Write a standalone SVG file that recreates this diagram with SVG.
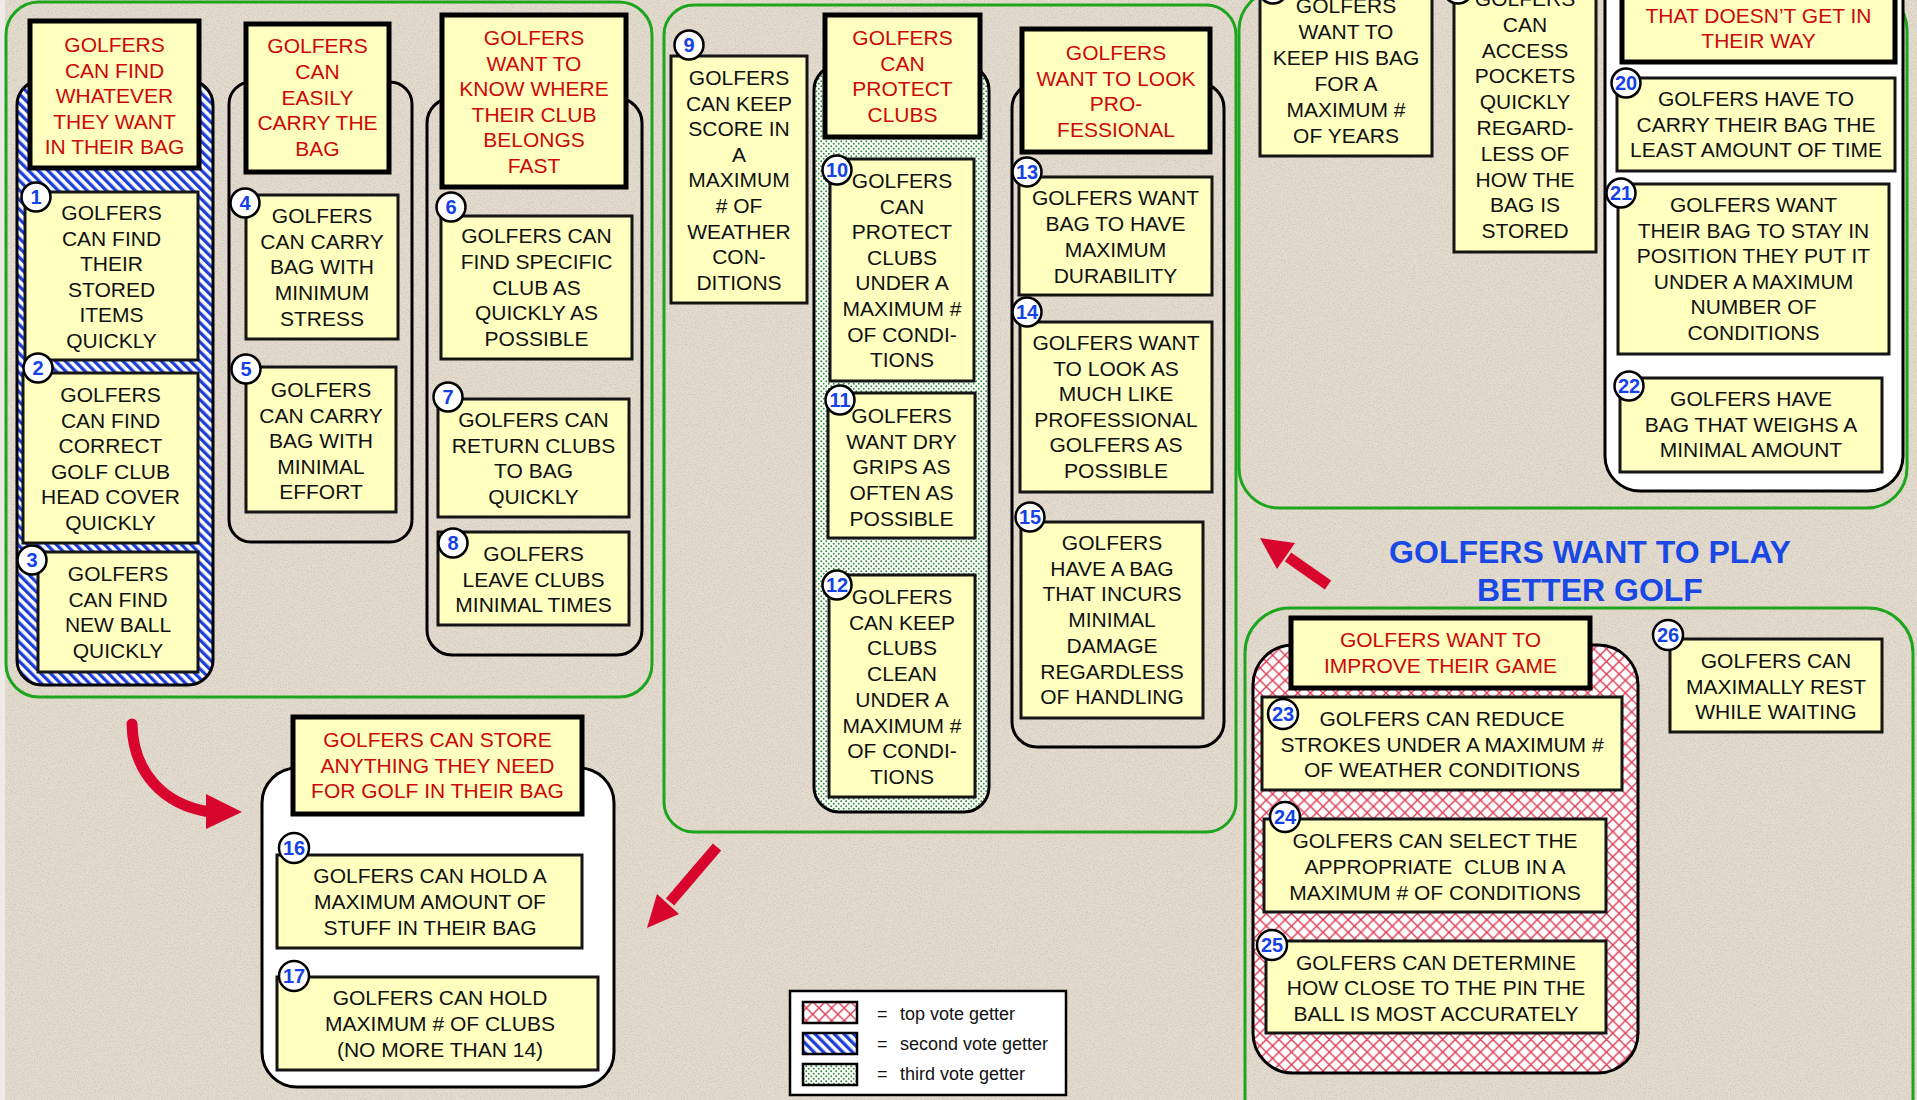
<svg xmlns="http://www.w3.org/2000/svg" width="1917" height="1100" viewBox="0 0 1917 1100">
<defs>
<style>
.t{font-family:"Liberation Sans",Arial,Helvetica,sans-serif;font-size:21px;fill:#111;text-anchor:middle}
.r{fill:#cc0808}
.node{fill:#ffffc0;stroke:#151515;stroke-width:3}
.head{fill:#ffffc0;stroke:#000;stroke-width:5}
.badge circle{fill:#fff;stroke:#000;stroke-width:2.5}
.badge text{font-family:"Liberation Sans",Arial,Helvetica,sans-serif;font-weight:bold;font-size:20px;fill:#1542e6;text-anchor:middle}
.grp{fill:none;stroke:#1ea51e;stroke-width:3}
.col{stroke:#000;stroke-width:3}
.arrow{fill:#d8062f;stroke:none}
.shaft{fill:none;stroke:#d8062f;stroke-width:11}
.title{font-family:"Liberation Sans",Arial,Helvetica,sans-serif;font-weight:bold;font-size:32px;fill:#1a48e4;text-anchor:middle}
.lg{font-family:"Liberation Sans",Arial,Helvetica,sans-serif;font-size:18px;fill:#111}
</style>
<!-- fill patterns for the vote ranking -->
<pattern id="stripes" width="6.8" height="6.8" patternUnits="userSpaceOnUse" patternTransform="rotate(-45)">
<rect width="6.8" height="6.8" fill="#fff"/>
<rect width="3.3" height="6.8" fill="#1d3fd8"/>
</pattern>
<pattern id="dots" width="5" height="5" patternUnits="userSpaceOnUse">
<rect width="5" height="5" fill="#fff"/>
<circle cx="1.25" cy="1.25" r="0.95" fill="#2e8b2e"/>
<circle cx="3.75" cy="3.75" r="0.95" fill="#2e8b2e"/>
</pattern>
<pattern id="hatch" width="12.6" height="12.6" patternUnits="userSpaceOnUse">
<rect width="12.6" height="12.6" fill="#fff"/>
<path d="M0,0 L12.6,12.6 M12.6,0 L0,12.6" stroke="#de3a52" stroke-width="1.4" fill="none"/>
</pattern>
<filter id="grain" x="0" y="0" width="100%" height="100%">
<feTurbulence type="fractalNoise" baseFrequency="0.7" numOctaves="3" seed="7" result="n"/>
<feColorMatrix in="n" type="matrix" values="0 0 0 0 0.38 0 0 0 0 0.34 0 0 0 0 0.28 0.8 0 0 0 -0.34"/>
</filter>
</defs>

<!-- paper background -->
<rect width="1917" height="1100" fill="#e4dccf"/>
<rect width="1917" height="1100" filter="url(#grain)"/>
<rect x="0" y="0" width="5" height="1100" fill="#eeebe6"/>

<!-- green cluster outlines -->
<g id="clusters">
<rect class="grp" x="6" y="2" width="646" height="695" rx="33"/>
<rect class="grp" x="664" y="5" width="572" height="827" rx="30"/>
<rect class="grp" x="1239" y="-10" width="668" height="518" rx="40"/>
<rect class="grp" x="1245" y="608" width="668" height="540" rx="45"/>
</g>

<!-- column containers -->
<g id="columns">
<rect class="col" x="17" y="80" width="196" height="605" rx="25" fill="url(#stripes)"/>
<rect class="col" x="229" y="82" width="183" height="460" rx="22" fill="none"/>
<rect class="col" x="427" y="98" width="215" height="557" rx="25" fill="none"/>
<rect class="col" x="814" y="65" width="175" height="747" rx="25" fill="url(#dots)"/>
<rect class="col" x="1012" y="83" width="212" height="664" rx="25" fill="none"/>
<rect class="col" x="1605" y="-40" width="298" height="531" rx="35" fill="#fff"/>
<rect class="col" x="1253" y="645" width="385" height="428" rx="40" fill="url(#hatch)"/>
<rect class="col" x="262" y="768" width="352" height="319" rx="35" fill="#fff"/>
</g>

<!-- cluster 1 -->
<g id="h-find-whatever">
<rect class="head" x="30" y="21" width="169" height="147"/>
<text class="t r" x="114.5" y="52"><tspan x="114.5">GOLFERS</tspan><tspan x="114.5" dy="25.5">CAN FIND</tspan><tspan x="114.5" dy="25.5">WHATEVER</tspan><tspan x="114.5" dy="25.5">THEY WANT</tspan><tspan x="114.5" dy="25.5">IN THEIR BAG</tspan></text>
</g>
<g id="n1">
<rect class="node" x="25" y="192" width="173" height="168"/>
<text class="t" x="111.5" y="220"><tspan x="111.5">GOLFERS</tspan><tspan x="111.5" dy="25.6">CAN FIND</tspan><tspan x="111.5" dy="25.6">THEIR</tspan><tspan x="111.5" dy="25.6">STORED</tspan><tspan x="111.5" dy="25.6">ITEMS</tspan><tspan x="111.5" dy="25.6">QUICKLY</tspan></text>
<g class="badge"><circle cx="36" cy="197" r="14.5"/><text x="36" y="204">1</text></g>
</g>
<g id="n2">
<rect class="node" x="23" y="373" width="175" height="170"/>
<text class="t" x="110.5" y="402"><tspan x="110.5">GOLFERS</tspan><tspan x="110.5" dy="25.6">CAN FIND</tspan><tspan x="110.5" dy="25.6">CORRECT</tspan><tspan x="110.5" dy="25.6">GOLF CLUB</tspan><tspan x="110.5" dy="25.6">HEAD COVER</tspan><tspan x="110.5" dy="25.6">QUICKLY</tspan></text>
<g class="badge"><circle cx="38" cy="368" r="14.5"/><text x="38" y="375">2</text></g>
</g>
<g id="n3">
<rect class="node" x="38" y="552" width="160" height="120"/>
<text class="t" x="118" y="581"><tspan x="118">GOLFERS</tspan><tspan x="118" dy="25.6">CAN FIND</tspan><tspan x="118" dy="25.6">NEW BALL</tspan><tspan x="118" dy="25.6">QUICKLY</tspan></text>
<g class="badge"><circle cx="32" cy="560" r="14.5"/><text x="32" y="567">3</text></g>
</g>
<g id="h-carry">
<rect class="head" x="246" y="24" width="143" height="148"/>
<text class="t r" x="317.5" y="53"><tspan x="317.5">GOLFERS</tspan><tspan x="317.5" dy="25.8">CAN</tspan><tspan x="317.5" dy="25.8">EASILY</tspan><tspan x="317.5" dy="25.8">CARRY THE</tspan><tspan x="317.5" dy="25.8">BAG</tspan></text>
</g>
<g id="n4">
<rect class="node" x="246" y="195" width="152" height="144"/>
<text class="t" x="322" y="223"><tspan x="322">GOLFERS</tspan><tspan x="322" dy="25.7">CAN CARRY</tspan><tspan x="322" dy="25.7">BAG WITH</tspan><tspan x="322" dy="25.7">MINIMUM</tspan><tspan x="322" dy="25.7">STRESS</tspan></text>
<g class="badge"><circle cx="245" cy="203" r="14.5"/><text x="245" y="210">4</text></g>
</g>
<g id="n5">
<rect class="node" x="246" y="367" width="150" height="145"/>
<text class="t" x="321" y="397"><tspan x="321">GOLFERS</tspan><tspan x="321" dy="25.5">CAN CARRY</tspan><tspan x="321" dy="25.5">BAG WITH</tspan><tspan x="321" dy="25.5">MINIMAL</tspan><tspan x="321" dy="25.5">EFFORT</tspan></text>
<g class="badge"><circle cx="246" cy="369" r="14.5"/><text x="246" y="376">5</text></g>
</g>
<g id="h-club-home">
<rect class="head" x="442" y="15" width="184" height="172"/>
<text class="t r" x="534" y="45"><tspan x="534">GOLFERS</tspan><tspan x="534" dy="25.6">WANT TO</tspan><tspan x="534" dy="25.6">KNOW WHERE</tspan><tspan x="534" dy="25.6">THEIR CLUB</tspan><tspan x="534" dy="25.6">BELONGS</tspan><tspan x="534" dy="25.6">FAST</tspan></text>
</g>
<g id="n6">
<rect class="node" x="441" y="216" width="191" height="143"/>
<text class="t" x="536.5" y="243"><tspan x="536.5">GOLFERS CAN</tspan><tspan x="536.5" dy="25.8">FIND SPECIFIC</tspan><tspan x="536.5" dy="25.8">CLUB AS</tspan><tspan x="536.5" dy="25.8">QUICKLY AS</tspan><tspan x="536.5" dy="25.8">POSSIBLE</tspan></text>
<g class="badge"><circle cx="451" cy="207" r="14.5"/><text x="451" y="214">6</text></g>
</g>
<g id="n7">
<rect class="node" x="438" y="399" width="191" height="118"/>
<text class="t" x="533.5" y="427"><tspan x="533.5">GOLFERS CAN</tspan><tspan x="533.5" dy="25.7">RETURN CLUBS</tspan><tspan x="533.5" dy="25.7">TO BAG</tspan><tspan x="533.5" dy="25.7">QUICKLY</tspan></text>
<g class="badge"><circle cx="448" cy="397" r="14.5"/><text x="448" y="404">7</text></g>
</g>
<g id="n8">
<rect class="node" x="438" y="532" width="191" height="93"/>
<text class="t" x="533.5" y="561"><tspan x="533.5">GOLFERS</tspan><tspan x="533.5" dy="25.5">LEAVE CLUBS</tspan><tspan x="533.5" dy="25.5">MINIMAL TIMES</tspan></text>
<g class="badge"><circle cx="453" cy="543" r="14.5"/><text x="453" y="550">8</text></g>
</g>

<!-- cluster 2 -->
<g id="n9">
<rect class="node" x="671" y="56" width="136" height="247"/>
<text class="t" x="739" y="85"><tspan x="739">GOLFERS</tspan><tspan x="739" dy="25.6">CAN KEEP</tspan><tspan x="739" dy="25.6">SCORE IN</tspan><tspan x="739" dy="25.6">A</tspan><tspan x="739" dy="25.6">MAXIMUM</tspan><tspan x="739" dy="25.6"># OF</tspan><tspan x="739" dy="25.6">WEATHER</tspan><tspan x="739" dy="25.6">CON-</tspan><tspan x="739" dy="25.6">DITIONS</tspan></text>
<g class="badge"><circle cx="689" cy="45" r="14.5"/><text x="689" y="52">9</text></g>
</g>
<g id="h-protect">
<rect class="head" x="825" y="15" width="155" height="122"/>
<text class="t r" x="902.5" y="45"><tspan x="902.5">GOLFERS</tspan><tspan x="902.5" dy="25.7">CAN</tspan><tspan x="902.5" dy="25.7">PROTECT</tspan><tspan x="902.5" dy="25.7">CLUBS</tspan></text>
</g>
<g id="n10">
<rect class="node" x="830" y="159" width="144" height="222"/>
<text class="t" x="902" y="188"><tspan x="902">GOLFERS</tspan><tspan x="902" dy="25.6">CAN</tspan><tspan x="902" dy="25.6">PROTECT</tspan><tspan x="902" dy="25.6">CLUBS</tspan><tspan x="902" dy="25.6">UNDER A</tspan><tspan x="902" dy="25.6">MAXIMUM #</tspan><tspan x="902" dy="25.6">OF CONDI-</tspan><tspan x="902" dy="25.6">TIONS</tspan></text>
<g class="badge"><circle cx="837" cy="170" r="14.5"/><text x="837" y="177">10</text></g>
</g>
<g id="n11">
<rect class="node" x="828" y="393" width="147" height="145"/>
<text class="t" x="901.5" y="423"><tspan x="901.5">GOLFERS</tspan><tspan x="901.5" dy="25.7">WANT DRY</tspan><tspan x="901.5" dy="25.7">GRIPS AS</tspan><tspan x="901.5" dy="25.7">OFTEN AS</tspan><tspan x="901.5" dy="25.7">POSSIBLE</tspan></text>
<g class="badge"><circle cx="840" cy="400" r="14.5"/><text x="840" y="407">11</text></g>
</g>
<g id="n12">
<rect class="node" x="829" y="575" width="146" height="222"/>
<text class="t" x="902" y="604"><tspan x="902">GOLFERS</tspan><tspan x="902" dy="25.7">CAN KEEP</tspan><tspan x="902" dy="25.7">CLUBS</tspan><tspan x="902" dy="25.7">CLEAN</tspan><tspan x="902" dy="25.7">UNDER A</tspan><tspan x="902" dy="25.7">MAXIMUM #</tspan><tspan x="902" dy="25.7">OF CONDI-</tspan><tspan x="902" dy="25.7">TIONS</tspan></text>
<g class="badge"><circle cx="837" cy="585" r="14.5"/><text x="837" y="592">12</text></g>
</g>
<g id="h-pro">
<rect class="head" x="1022" y="29" width="188" height="123"/>
<text class="t r" x="1116" y="60"><tspan x="1116">GOLFERS</tspan><tspan x="1116" dy="25.6">WANT TO LOOK</tspan><tspan x="1116" dy="25.6">PRO-</tspan><tspan x="1116" dy="25.6">FESSIONAL</tspan></text>
</g>
<g id="n13">
<rect class="node" x="1019" y="177" width="193" height="118"/>
<text class="t" x="1115.5" y="205"><tspan x="1115.5">GOLFERS WANT</tspan><tspan x="1115.5" dy="25.9">BAG TO HAVE</tspan><tspan x="1115.5" dy="25.9">MAXIMUM</tspan><tspan x="1115.5" dy="25.9">DURABILITY</tspan></text>
<g class="badge"><circle cx="1027" cy="172" r="14.5"/><text x="1027" y="179">13</text></g>
</g>
<g id="n14">
<rect class="node" x="1020" y="322" width="192" height="170"/>
<text class="t" x="1116" y="350"><tspan x="1116">GOLFERS WANT</tspan><tspan x="1116" dy="25.6">TO LOOK AS</tspan><tspan x="1116" dy="25.6">MUCH LIKE</tspan><tspan x="1116" dy="25.6">PROFESSIONAL</tspan><tspan x="1116" dy="25.6">GOLFERS AS</tspan><tspan x="1116" dy="25.6">POSSIBLE</tspan></text>
<g class="badge"><circle cx="1027" cy="312" r="14.5"/><text x="1027" y="319">14</text></g>
</g>
<g id="n15">
<rect class="node" x="1021" y="522" width="182" height="196"/>
<text class="t" x="1112" y="550"><tspan x="1112">GOLFERS</tspan><tspan x="1112" dy="25.7">HAVE A BAG</tspan><tspan x="1112" dy="25.7">THAT INCURS</tspan><tspan x="1112" dy="25.7">MINIMAL</tspan><tspan x="1112" dy="25.7">DAMAGE</tspan><tspan x="1112" dy="25.7">REGARDLESS</tspan><tspan x="1112" dy="25.7">OF HANDLING</tspan></text>
<g class="badge"><circle cx="1030" cy="517" r="14.5"/><text x="1030" y="524">15</text></g>
</g>

<!-- cluster 3 (runs past the top edge) -->
<g id="n18">
<rect class="node" x="1260" y="-10" width="172" height="166"/>
<text class="t" x="1346" y="13"><tspan x="1346">GOLFERS</tspan><tspan x="1346" dy="25.9">WANT TO</tspan><tspan x="1346" dy="25.9">KEEP HIS BAG</tspan><tspan x="1346" dy="25.9">FOR A</tspan><tspan x="1346" dy="25.9">MAXIMUM #</tspan><tspan x="1346" dy="25.9">OF YEARS</tspan></text>
<g class="badge"><circle cx="1273" cy="-11" r="14.5"/></g>
</g>
<g id="n19">
<rect class="node" x="1454" y="-10" width="142" height="262"/>
<text class="t" x="1525" y="6"><tspan x="1525">GOLFERS</tspan><tspan x="1525" dy="25.8">CAN</tspan><tspan x="1525" dy="25.8">ACCESS</tspan><tspan x="1525" dy="25.8">POCKETS</tspan><tspan x="1525" dy="25.8">QUICKLY</tspan><tspan x="1525" dy="25.8">REGARD-</tspan><tspan x="1525" dy="25.8">LESS OF</tspan><tspan x="1525" dy="25.8">HOW THE</tspan><tspan x="1525" dy="25.8">BAG IS</tspan><tspan x="1525" dy="25.8">STORED</tspan></text>
<g class="badge"><circle cx="1458" cy="-11" r="14.5"/></g>
</g>
<g id="h-way">
<rect class="head" x="1622" y="-50" width="273" height="112"/>
<text class="t r" x="1758.5" y="23"><tspan x="1758.5">THAT DOESN’T GET IN</tspan><tspan x="1758.5" dy="24.5">THEIR WAY</tspan></text>
</g>
<g id="n20">
<rect class="node" x="1617" y="78" width="278" height="93"/>
<text class="t" x="1756" y="106"><tspan x="1756">GOLFERS HAVE TO</tspan><tspan x="1756" dy="25.5">CARRY THEIR BAG THE</tspan><tspan x="1756" dy="25.5">LEAST AMOUNT OF TIME</tspan></text>
<g class="badge"><circle cx="1626" cy="83" r="14.5"/><text x="1626" y="90">20</text></g>
</g>
<g id="n21">
<rect class="node" x="1618" y="184" width="271" height="170"/>
<text class="t" x="1753.5" y="212"><tspan x="1753.5">GOLFERS WANT</tspan><tspan x="1753.5" dy="25.6">THEIR BAG TO STAY IN</tspan><tspan x="1753.5" dy="25.6">POSITION THEY PUT IT</tspan><tspan x="1753.5" dy="25.6">UNDER A MAXIMUM</tspan><tspan x="1753.5" dy="25.6">NUMBER OF</tspan><tspan x="1753.5" dy="25.6">CONDITIONS</tspan></text>
<g class="badge"><circle cx="1621" cy="193" r="14.5"/><text x="1621" y="200">21</text></g>
</g>
<g id="n22">
<rect class="node" x="1620" y="378" width="262" height="94"/>
<text class="t" x="1751" y="406"><tspan x="1751">GOLFERS HAVE</tspan><tspan x="1751" dy="25.5">BAG THAT WEIGHS A</tspan><tspan x="1751" dy="25.5">MINIMAL AMOUNT</tspan></text>
<g class="badge"><circle cx="1629" cy="386" r="14.5"/><text x="1629" y="393">22</text></g>
</g>

<!-- main goal -->
<g id="goal">
<text class="title" x="1590" y="563">GOLFERS WANT TO PLAY</text>
<text class="title" x="1590" y="601">BETTER GOLF</text>
</g>

<!-- cluster 4 -->
<g id="h-improve">
<rect class="head" x="1291" y="618" width="299" height="70"/>
<text class="t r" x="1440.5" y="647"><tspan x="1440.5">GOLFERS WANT TO</tspan><tspan x="1440.5" dy="26">IMPROVE THEIR GAME</tspan></text>
</g>
<g id="n23">
<rect class="node" x="1262" y="697" width="360" height="93"/>
<text class="t" x="1442" y="726"><tspan x="1442">GOLFERS CAN REDUCE</tspan><tspan x="1442" dy="25.5">STROKES UNDER A MAXIMUM #</tspan><tspan x="1442" dy="25.5">OF WEATHER CONDITIONS</tspan></text>
<g class="badge"><circle cx="1283" cy="714" r="15"/><text x="1283" y="721">23</text></g>
</g>
<g id="n24">
<rect class="node" x="1264" y="819" width="342" height="93"/>
<text class="t" x="1435" y="848" xml:space="preserve"><tspan x="1435">GOLFERS CAN SELECT THE</tspan><tspan x="1435" dy="25.8">APPROPRIATE  CLUB IN A</tspan><tspan x="1435" dy="25.8">MAXIMUM # OF CONDITIONS</tspan></text>
<g class="badge"><circle cx="1285" cy="817" r="15"/><text x="1285" y="824">24</text></g>
</g>
<g id="n25">
<rect class="node" x="1266" y="941" width="340" height="92"/>
<text class="t" x="1436" y="970"><tspan x="1436">GOLFERS CAN DETERMINE</tspan><tspan x="1436" dy="25.3">HOW CLOSE TO THE PIN THE</tspan><tspan x="1436" dy="25.3">BALL IS MOST ACCURATELY</tspan></text>
<g class="badge"><circle cx="1272" cy="945" r="15"/><text x="1272" y="952">25</text></g>
</g>
<g id="n26">
<rect class="node" x="1670" y="639" width="212" height="93"/>
<text class="t" x="1776" y="668"><tspan x="1776">GOLFERS CAN</tspan><tspan x="1776" dy="25.5">MAXIMALLY REST</tspan><tspan x="1776" dy="25.5">WHILE WAITING</tspan></text>
<g class="badge"><circle cx="1668" cy="635" r="15"/><text x="1668" y="642">26</text></g>
</g>

<!-- cluster 5 -->
<g id="h-store">
<rect class="head" x="293" y="717" width="289" height="97"/>
<text class="t r" x="437.5" y="747"><tspan x="437.5">GOLFERS CAN STORE</tspan><tspan x="437.5" dy="25.5">ANYTHING THEY NEED</tspan><tspan x="437.5" dy="25.5">FOR GOLF IN THEIR BAG</tspan></text>
</g>
<g id="n16">
<rect class="node" x="277" y="855" width="305" height="93"/>
<text class="t" x="430" y="883"><tspan x="430">GOLFERS CAN HOLD A</tspan><tspan x="430" dy="26">MAXIMUM AMOUNT OF</tspan><tspan x="430" dy="26">STUFF IN THEIR BAG</tspan></text>
<g class="badge"><circle cx="294" cy="848" r="15"/><text x="294" y="855">16</text></g>
</g>
<g id="n17">
<rect class="node" x="277" y="977" width="321" height="93"/>
<text class="t" x="440" y="1005"><tspan x="440">GOLFERS CAN HOLD</tspan><tspan x="440" dy="26">MAXIMUM # OF CLUBS</tspan><tspan x="440" dy="26">(NO MORE THAN 14)</tspan></text>
<g class="badge"><circle cx="294" cy="976" r="15"/><text x="294" y="983">17</text></g>
</g>

<!-- connectors -->
<g id="connectors">
<path class="shaft" d="M132,724 C133,772 163,805 210,812" stroke-linecap="round"/>
<polygon class="arrow" points="242,812 206,794 206,829"/>
<line class="shaft" x1="717" y1="847" x2="670" y2="902"/>
<polygon class="arrow" points="647,928 679,914 657,894"/>
<line class="shaft" x1="1328" y1="585" x2="1288" y2="557"/>
<polygon class="arrow" points="1260,538 1295,543 1277,569"/>
</g>

<!-- legend -->
<g id="legend">
<rect x="790" y="991" width="276" height="104" fill="#fff" stroke="#000" stroke-width="2.5"/>
<rect x="803" y="1002" width="54" height="21" fill="url(#hatch)" stroke="#000" stroke-width="2.5"/>
<rect x="803" y="1033" width="54" height="21" fill="url(#stripes)" stroke="#000" stroke-width="2.5"/>
<rect x="803" y="1064" width="54" height="21" fill="url(#dots)" stroke="#000" stroke-width="2.5"/>
<text class="lg" x="877" y="1020">=</text>
<text class="lg" x="877" y="1050">=</text>
<text class="lg" x="877" y="1080">=</text>
<text class="lg" x="900" y="1020">top vote getter</text>
<text class="lg" x="900" y="1050">second vote getter</text>
<text class="lg" x="900" y="1080">third vote getter</text>
</g>
</svg>
